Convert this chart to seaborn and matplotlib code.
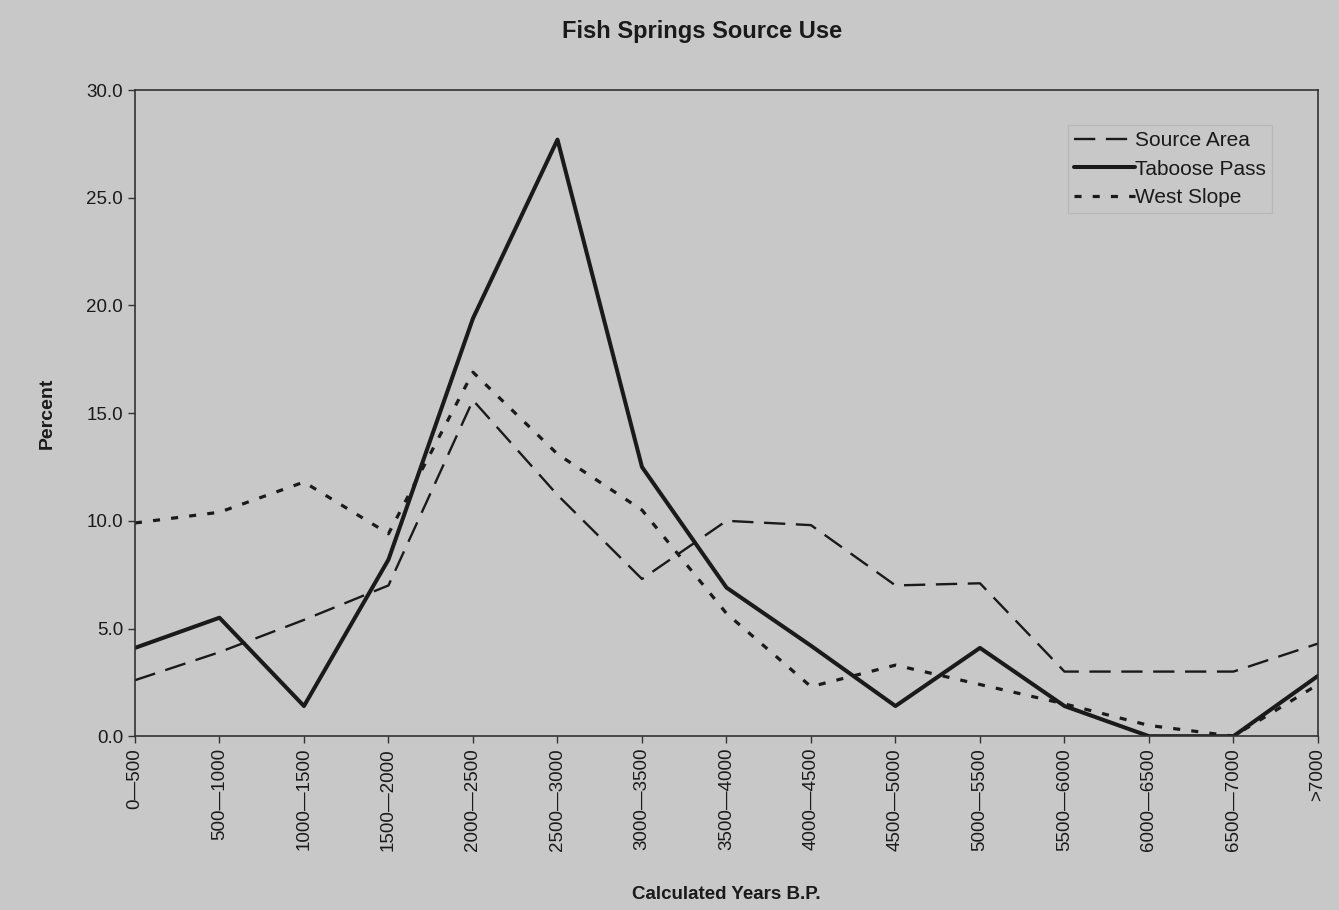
import matplotlib
matplotlib.use('Agg')
import matplotlib.pyplot as plt
import seaborn as sns
import pandas as pd

# values (percent)
periods = ['0\u2014500', '500\u20141000', '1000\u20141500', '1500\u20142000', '2000\u20142500',
           '2500\u20143000', '3000\u20143500', '3500\u20144000', '4000\u20144500', '4500\u20145000',
           '5000\u20145500', '5500\u20146000', '6000\u20146500', '6500\u20147000', '>7000']
source_area = [2.6, 3.9, 5.4, 7.0, 15.6, 11.2, 7.3, 10.0, 9.8, 7.0, 7.1, 3.0, 3.0, 3.0, 4.3]
taboose_pass = [4.1, 5.5, 1.4, 8.2, 19.4, 27.7, 12.5, 6.9, 4.2, 1.4, 4.1, 1.4, 0.0, 0.0, 2.8]
west_slope = [9.9, 10.4, 11.8, 9.4, 16.9, 13.1, 10.5, 5.7, 2.3, 3.3, 2.4, 1.5, 0.5, 0.0, 2.4]

series = ['Source Area', 'Taboose Pass', 'West Slope']

df = pd.DataFrame({
    'period': periods * 3,
    'pos': list(range(len(periods))) * 3,
    'percent': source_area + taboose_pass + west_slope,
    'Source': [s for s in series for _ in periods],
})

bg = '#c8c8c8'
ink = '#1a1a1a'

sns.set_style('ticks')
plt.rcParams['font.family'] = ['Liberation Sans', 'DejaVu Sans']

fig = plt.figure(figsize=(13.39, 9.10), dpi=100, facecolor=bg)
ax = fig.add_axes([0.1008, 0.191, 0.8835, 0.710])
ax.set_facecolor(bg)

sns.lineplot(data=df, x='pos', y='percent', hue='Source', style='Source', size='Source',
             palette={s: ink for s in series},
             dashes={'Source Area': (9, 4.5), 'Taboose Pass': '', 'West Slope': (2.2, 3.5)},
             sizes={'Source Area': 1.7, 'Taboose Pass': 2.9, 'West Slope': 2.3},
             ax=ax, legend='full')

ax.set_xlim(0, len(periods) - 1)
ax.set_ylim(0, 30)
ax.set_xticks(range(len(periods)))
ax.set_xticklabels(periods, rotation=90, fontsize=13.5, color=ink)
ax.set_yticks([0, 5, 10, 15, 20, 25, 30])
ax.set_yticklabels(['%.1f' % v for v in [0, 5, 10, 15, 20, 25, 30]], fontsize=13.5, color=ink)
ax.tick_params(axis='both', direction='out', length=5, width=1, color='#333333')

for sp in ax.spines.values():
    sp.set_visible(True)
    sp.set_color('#333333')
    sp.set_linewidth(1.2)

ax.set_xlabel('Calculated Years B.P.', fontsize=13.5, fontweight='bold', color=ink)
ax.xaxis.set_label_coords(0.5, -0.232)
ax.set_ylabel('Percent', fontsize=14, fontweight='bold', color=ink, labelpad=22)
fig.suptitle('Fish Springs Source Use', x=0.524, y=0.978, fontsize=17, fontweight='bold', color=ink)

handles, labels = ax.get_legend_handles_labels()
keep = [(h, l) for h, l in zip(handles, labels) if l in series]
leg = ax.legend([h for h, l in keep], [l for h, l in keep], loc='upper right',
                bbox_to_anchor=(0.961, 0.946), borderaxespad=0, fontsize=15, frameon=True,
                fancybox=False, handlelength=2.9, handletextpad=0.0, borderpad=0.3,
                labelspacing=0.45)
leg.get_frame().set_facecolor(bg)
leg.get_frame().set_edgecolor('#b5b5b5')
for t in leg.get_texts():
    t.set_color(ink)

fig.savefig('out.png', dpi=100, facecolor=bg)
